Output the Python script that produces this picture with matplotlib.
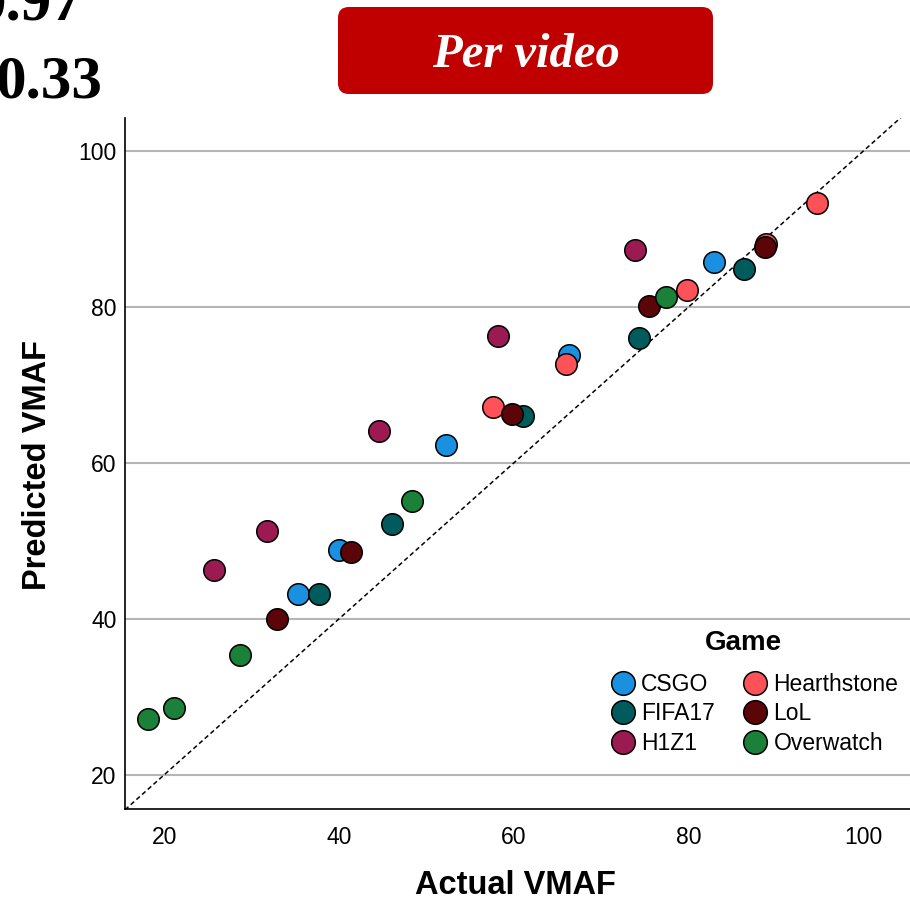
from matplotlib import pyplot as plt
from matplotlib.patches import FancyBboxPatch
from matplotlib.lines import Line2D

plt.rcParams['font.family'] = ['Liberation Sans', 'DejaVu Sans']

# data (actual, predicted) per game
games = ['CSGO', 'FIFA17', 'H1Z1', 'Hearthstone', 'LoL', 'Overwatch']
colors = ['#1A90E0', '#005C5C', '#9C1A52', '#FF5258', '#5B0509', '#1B8038']

actual = {
    'CSGO': [35.3, 40.0, 52.2, 66.3, 82.9],
    'FIFA17': [37.7, 46.1, 61.0, 74.3, 86.3],
    'H1Z1': [25.7, 31.7, 44.5, 58.2, 73.8],
    'Hearthstone': [57.6, 65.9, 79.8, 88.8, 94.7],
    'LoL': [32.9, 41.4, 59.8, 75.4, 88.7],
    'Overwatch': [18.1, 21.1, 28.6, 48.3, 77.4],
}
predicted = {
    'CSGO': [43.2, 48.8, 62.3, 73.8, 85.8],
    'FIFA17': [43.2, 52.1, 66.0, 76.0, 84.9],
    'H1Z1': [46.2, 51.2, 64.1, 76.2, 87.3],
    'Hearthstone': [67.2, 72.7, 82.2, 88.0, 93.3],
    'LoL': [40.0, 48.6, 66.2, 80.1, 87.7],
    'Overwatch': [27.2, 28.5, 35.4, 55.1, 81.3],
}

ticks = [20, 40, 60, 80, 100]
top_numbers = ['0.97', '0.33']

fig = plt.figure(figsize=(9.1, 9.0), dpi=100)
ax = fig.add_axes([125 / 910, 91 / 900, 785 / 910, 691 / 900])

xmin, xmax = 15.5, 105.3
ymin, ymax = 15.6, 104.2
ax.set_xlim(xmin, xmax)
ax.set_ylim(ymin, ymax)

# grid only horizontal
ax.set_yticks(ticks)
ax.set_xticks(ticks)
ax.yaxis.grid(True, color='#B5B5B5', linewidth=1.5)
ax.set_axisbelow(True)

# identity line
ax.plot([xmin, xmax], [xmin, xmax], color='black', linestyle=(0, (3, 2)), linewidth=1.1, zorder=2)

for g, c in zip(games, colors):
    ax.scatter(actual[g], predicted[g], s=240, color=c, edgecolor='black', linewidth=1.1, zorder=3)

for side in ['top', 'right']:
    ax.spines[side].set_visible(False)
ax.spines['left'].set_linewidth(1.2)
ax.spines['bottom'].set_linewidth(1.2)
ax.tick_params(axis='both', length=0, labelsize=16.5)
ax.tick_params(axis='x', pad=12)
ax.tick_params(axis='y', pad=6)

fig.text(515 / 910, 1 - 885 / 900, 'Actual VMAF', ha='center', va='center',
         fontsize=23.5, fontweight='bold')
fig.text(38 / 910, 1 - 465 / 900, 'Predicted VMAF', ha='center', va='center',
         fontsize=23.5, fontweight='bold', rotation=90)

# legend (title drawn separately to get the larger gap)
handles = [Line2D([], [], linestyle='none', marker='o', markersize=17,
                  markerfacecolor=c, markeredgecolor='black', markeredgewidth=1.1)
           for c in colors]
leg = ax.legend(handles, games, ncol=2, frameon=False,
                loc='center', bbox_to_anchor=(755 / 910, 1 - 714 / 900),
                bbox_transform=fig.transFigure, fontsize=16.5,
                handlelength=1.0, handletextpad=0.3, columnspacing=1.25,
                labelspacing=0.28, borderpad=0)
fig.text(743 / 910, 1 - 643 / 900, 'Game', ha='center', va='center',
         fontsize=20, fontweight='bold')

# title box
box = FancyBboxPatch((338 / 910, 1 - 94 / 900), 375 / 910, 87 / 900,
                     boxstyle='round,pad=0,rounding_size=0.012',
                     transform=fig.transFigure, facecolor='#C00000',
                     edgecolor='none')
fig.patches.append(box)
fig.text(526 / 910, 1 - 55 / 900, 'Per video', ha='center', va='center',
         color='white', fontsize=35, fontweight='bold', fontstyle='italic',
         family='Liberation Serif')

# numbers from a neighbouring panel, cut by the image edge as in the reference
fig.text(82 / 910, 1 - 20 / 900, top_numbers[0], ha='right', va='baseline',
         fontsize=44, fontweight='bold', family='Liberation Serif')
fig.text(103 / 910, 1 - 97 / 900, top_numbers[1], ha='right', va='baseline',
         fontsize=44, fontweight='bold', family='Liberation Serif')

plt.savefig('out.png', dpi=100)
